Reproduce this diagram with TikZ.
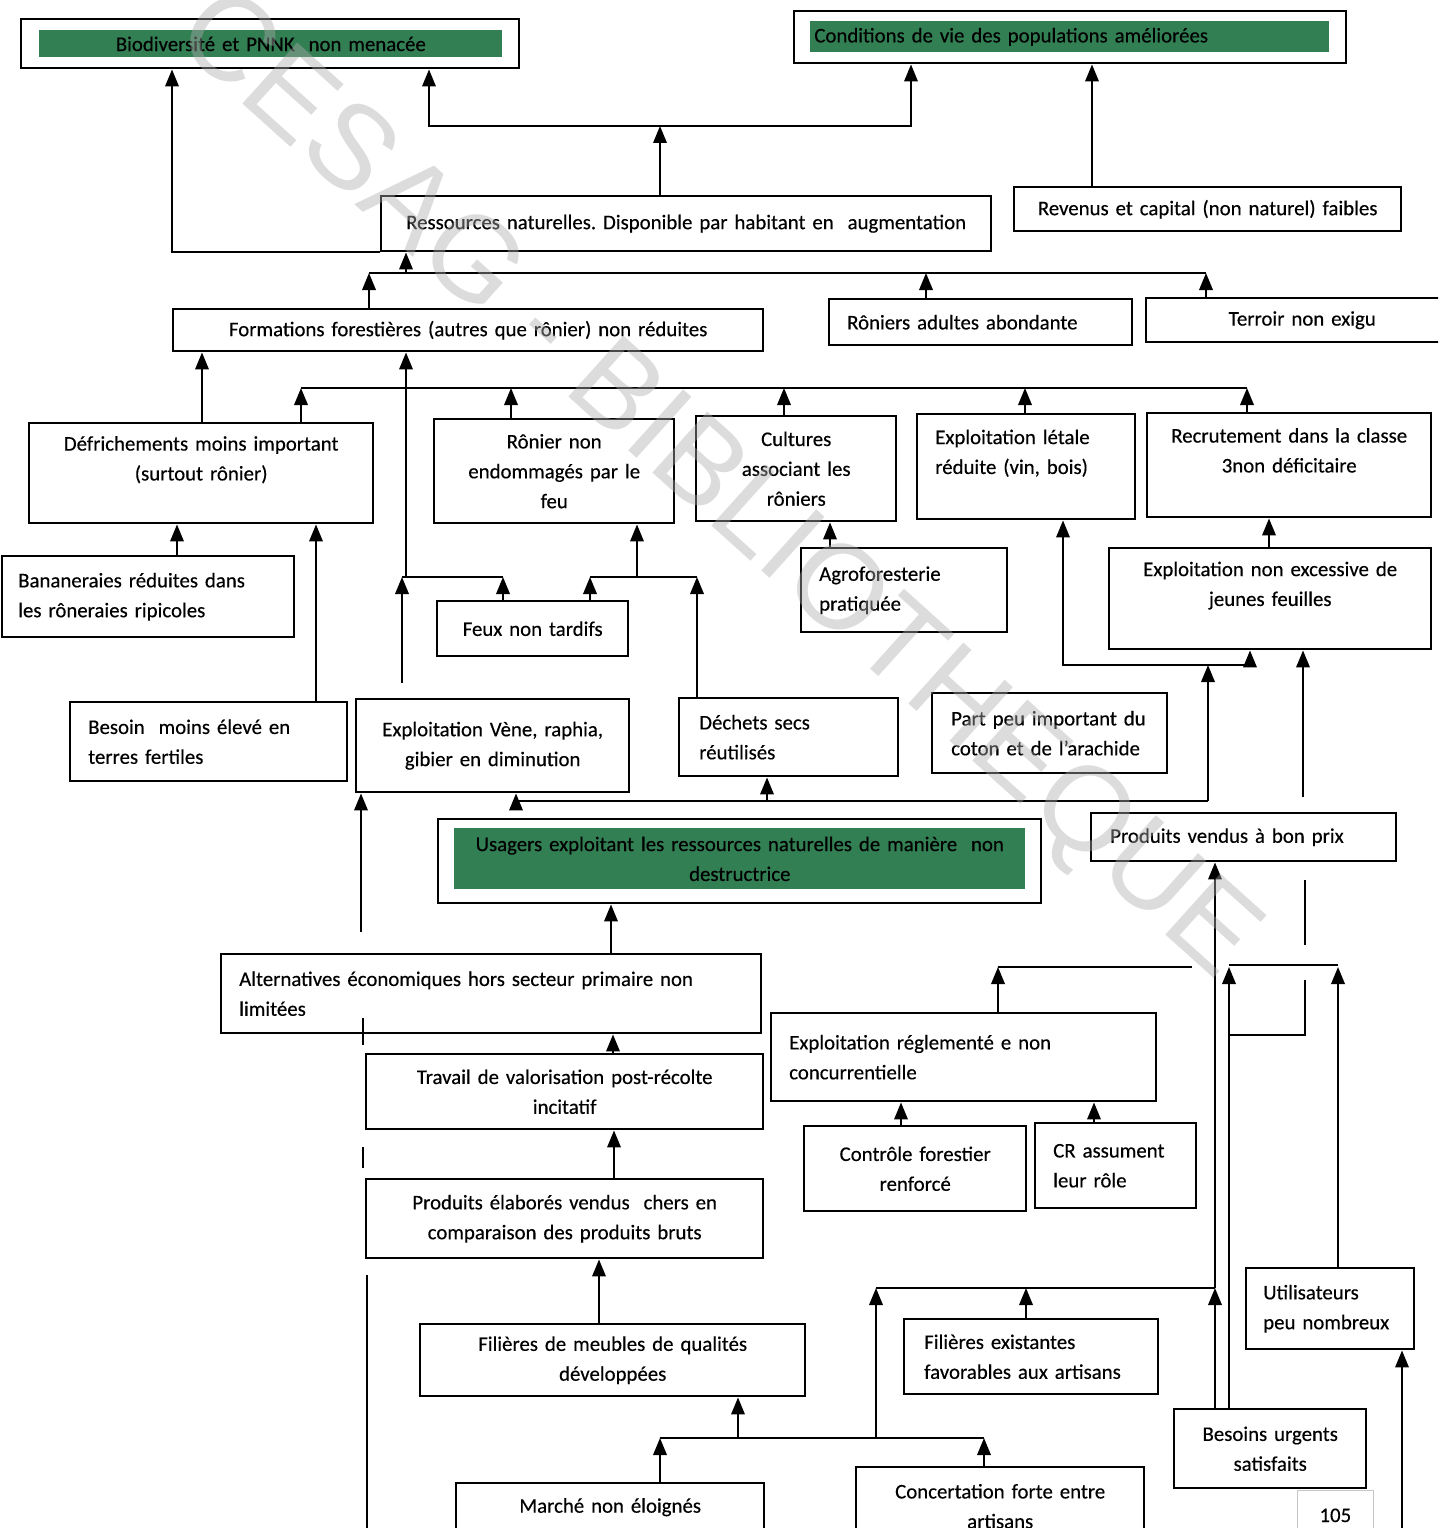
\documentclass[tikz,border=0pt]{standalone}
\usepackage{fontspec}
\setmainfont{Carlito}[FakeBold=0.35]
\newfontfamily\filfont{Liberation Sans}
\usetikzlibrary{arrows.meta}
\definecolor{vert}{RGB}{50,127,84}
\frenchspacing

\begin{document}
\begin{tikzpicture}[x=0.02cm, y=-0.02cm,
    cadre/.style={draw, fill=white, line width=1.4pt, anchor=north west, inner sep=0pt, font=\fontsize{11.85}{17}\selectfont},
    bande/.style={fill=vert, anchor=north west, inner sep=0pt, font=\fontsize{11.85}{17}\selectfont},
    fleche/.style={line width=1.1pt, -{Triangle[length=0.34cm, width=0.27cm]}},
    fleches/.style={line width=1.1pt, {Triangle[length=0.34cm, width=0.27cm]}-{Triangle[length=0.34cm, width=0.27cm]}},
    trait/.style={line width=1.1pt},
    filigrane/.style={font=\filfont\fontsize{68}{68}\selectfont, text=gray!65, opacity=0.42}]
    \useasboundingbox (0,0) rectangle (1438,1528);
    \clip (0,0) rectangle (1438,1528);

    % Objectifs
    \node[cadre, minimum width=9.96cm, minimum height=0.98cm] (bio) at (20,18) {};
    \node[bande, minimum width=9.26cm, minimum height=0.54cm, text width=9cm, align=center] (biot) at (39,30) {Biodiversité et PNNK~ non menacée};
    \node[cadre, minimum width=11.04cm, minimum height=1.04cm] (cond) at (793,10) {};
    \node[bande, minimum width=10.38cm, minimum height=0.62cm, text width=10.22cm, align=left] (condt) at (810,21) {Conditions de vie des populations améliorées};

    % Niveau 1
    \node[cadre, minimum width=12.2cm, minimum height=1.1cm, text width=11.8cm, align=center] (res) at (380,195) {Ressources naturelles. Disponible par habitant en~ augmentation};
    \node[cadre, minimum width=7.74cm, minimum height=0.88cm, text width=7.4cm, align=center] (rev) at (1013,186) {Revenus et capital (non naturel) faibles};

    % Niveau 2
    \node[cadre, minimum width=11.8cm, minimum height=0.84cm, text width=11.4cm, align=center] (form) at (172,308) {Formations forestières (autres que rônier) non réduites};
    \node[cadre, minimum width=6.06cm, minimum height=0.92cm, text width=5.34cm, align=left] (ron) at (828,298) {Rôniers adultes abondante};
    \node[cadre, minimum width=6.24cm, minimum height=0.88cm, text width=5.8cm, align=center] (ter) at (1145,297) {Terroir non exigu};

    % Niveau 3
    \node[cadre, minimum width=6.88cm, minimum height=2cm, text width=6.5cm, align=center] (def) at (28,422) {Défrichements moins important\\(surtout rônier)\\\mbox{}};
    \node[cadre, minimum width=4.8cm, minimum height=2.08cm, text width=4.5cm, align=center] (ronf) at (433,418) {Rônier non\\endommagés par le\\feu};
    \node[cadre, minimum width=4cm, minimum height=2.1cm, text width=3.8cm, align=center] (cult) at (695,415) {Cultures\\associant les\\rôniers};
    \node[cadre, minimum width=4.36cm, minimum height=2.1cm, text width=3.64cm, align=left] (exl) at (916,413) {Exploitation létale\\réduite (vin, bois)\\\mbox{}};
    \node[cadre, minimum width=5.68cm, minimum height=2.08cm, text width=5.4cm, align=center] (recr) at (1146,412) {Recrutement dans la classe\\3non déficitaire\\\mbox{}};

    % Niveau 4
    \node[cadre, minimum width=5.84cm, minimum height=1.62cm, text width=5.2cm, align=left] (ban) at (1,555) {Bananeraies réduites dans\\les rôneraies ripicoles};
    \node[cadre, minimum width=3.82cm, minimum height=1.1cm, text width=3.6cm, align=center] (feux) at (436,600) {Feux non tardifs};
    \node[cadre, minimum width=4.12cm, minimum height=1.68cm, text width=3.4cm, align=left] (agro) at (800,547) {Agroforesterie\\pratiquée};
    \node[cadre, minimum width=6.44cm, minimum height=2.02cm, text width=6.1cm, align=center] (jeun) at (1108,547) {Exploitation non excessive de\\jeunes feuilles\\\mbox{}};

    % Niveau 5
    \node[cadre, minimum width=5.54cm, minimum height=1.58cm, text width=4.82cm, align=left] (besoin) at (69,701) {Besoin~ moins élevé en\\terres fertiles};
    \node[cadre, minimum width=5.46cm, minimum height=1.86cm, text width=5.2cm, align=center] (vene) at (355,698) {Exploitation Vène, raphia,\\gibier en diminution};
    \node[cadre, minimum width=4.38cm, minimum height=1.56cm, text width=3.58cm, align=left] (dech) at (678,697) {Déchets secs\\réutilisés};
    \node[cadre, minimum width=4.7cm, minimum height=1.6cm, text width=3.94cm, align=left] (part) at (931,692) {Part peu important du\\coton et de l’arachide};

    % Probleme central
    \node[cadre, minimum width=12.06cm, minimum height=1.68cm] (usa) at (437,818) {};
    \node[bande, minimum width=11.42cm, minimum height=1.22cm, text width=11cm, align=center] (usat) at (454,828) {Usagers exploitant les ressources naturelles de manière~ non\\destructrice};
    \node[cadre, minimum width=6.1cm, minimum height=0.96cm, text width=5.34cm, align=left] (pvend) at (1090,812) {Produits vendus à bon prix};

    % Moyens
    \node[cadre, minimum width=10.8cm, minimum height=1.58cm, text width=10.08cm, align=left] (alt) at (220,953) {Alternatives économiques hors secteur primaire non\\limitées};
    \node[cadre, minimum width=7.94cm, minimum height=1.5cm, text width=7.6cm, align=center] (trav) at (365,1053) {Travail de valorisation post-récolte\\incitatif};
    \node[cadre, minimum width=7.7cm, minimum height=1.76cm, text width=6.98cm, align=left] (expreg) at (770,1012) {Exploitation réglementé e non\\concurrentielle};
    \node[cadre, minimum width=4.44cm, minimum height=1.7cm, text width=4.2cm, align=center] (ctrl) at (803,1125) {Contrôle forestier\\renforcé};
    \node[cadre, minimum width=3.22cm, minimum height=1.7cm, text width=2.5cm, align=left] (cr) at (1034,1122) {CR assument\\leur rôle};
    \node[cadre, minimum width=7.94cm, minimum height=1.58cm, text width=7.6cm, align=center] (prodel) at (365,1178) {Produits élaborés vendus~ chers en\\comparaison des produits bruts};
    \node[cadre, minimum width=3.36cm, minimum height=1.62cm, text width=2.68cm, align=left] (util) at (1245,1267) {Utilisateurs\\peu nombreux};
    \node[cadre, minimum width=7.7cm, minimum height=1.44cm, text width=7.4cm, align=center] (filmeub) at (419,1323) {Filières de meubles de qualités\\développées};
    \node[cadre, minimum width=5.08cm, minimum height=1.5cm, text width=4.28cm, align=left] (filex) at (903,1318) {Filières existantes\\favorables aux artisans};
    \node[cadre, minimum width=3.84cm, minimum height=1.58cm, text width=3.6cm, align=center] (besu) at (1173,1408) {Besoins urgents\\satisfaits};
    \node[cadre, minimum width=6.16cm, minimum height=0.96cm, text width=5.9cm, align=center] (marche) at (455,1482) {Marché non éloignés};
    \node[cadre, minimum width=5.76cm, minimum height=1.56cm, text width=5.5cm, align=center] (conc) at (855,1466) {Concertation forte entre\\artisans};
    \node[draw=gray!45, line width=0.4pt, anchor=north west, minimum width=1.52cm, minimum height=1cm, font=\fontsize{11.85}{17}\selectfont] (page) at (1297,1490) {105};

    % Liens vers les objectifs
    \coordinate (j1) at (660,126);
    \draw[fleche] (res.south west) -| (172,0 |- bio.south);
    \draw[fleche] (660,0 |- res.north) -- (j1);
    \draw[fleche] (j1) -| (429,0 |- bio.south);
    \draw[fleche] (j1) -| (911,0 |- cond.south);
    \draw[fleche] (1092,0 |- rev.north) -- (1092,0 |- cond.south);

    % Niveau 2 -> ressources
    \draw[trait] (369,273) -- (1206,273);
    \draw[fleche] (406,273) -- (406,0 |- res.south);
    \draw[fleche] (369,0 |- form.north) -- (369,273);
    \draw[fleche] (926,0 |- ron.north) -- (926,273);
    \draw[fleche] (1206,0 |- ter.north) -- (1206,273);

    % Niveau 3 -> formations
    \draw[trait] (301,388) -- (1247,388);
    \foreach \x/\n in {301/def, 511/ronf, 784/cult, 1025/exl, 1247/recr}
        \draw[fleche] (\x,0 |- \n.north) -- (\x,388);
    \draw[fleche] (202,0 |- def.north) -- (202,0 |- form.south);
    \draw[fleche] (406,577) -- (406,0 |- form.south);

    % Feux, Vene, Dechets
    \draw[trait] (402,577) -- (503,577);
    \draw[fleche, shorten <=0.3cm] (402,0 |- vene.north) -- (402,577);
    \draw[fleche] (503,0 |- feux.north) -- (503,577);
    \draw[trait] (590,577) -- (697,577);
    \draw[fleche] (590,0 |- feux.north) -- (590,577);
    \draw[fleche] (697,0 |- dech.north) -- (697,577);
    \draw[fleche] (637,577) -- (637,0 |- ronf.south);

    % Vers niveau 3
    \draw[fleche] (177,0 |- ban.north) -- (177,0 |- def.south);
    \draw[fleche] (316,0 |- besoin.north) -- (316,0 |- def.south);
    \draw[fleche] (830,0 |- agro.north) -- (830,0 |- cult.south);
    \draw[fleche] (1269,0 |- jeun.north) -- (1269,0 |- recr.south);
    \draw[fleches] (1063,0 |- exl.south) -- (1063,665) -- (1250,665) -- (1250,0 |- jeun.south);

    % Ligne basse
    \coordinate (j3) at (1208,665);
    \coordinate (j4) at (1208,801);
    \draw[trait] (516,801) -- (j4);
    \draw[fleche] (516,801) -- (516,0 |- vene.south);
    \draw[fleche] (767,801) -- (767,0 |- dech.south);
    \draw[fleche] (j4) -- (j3);
    \draw[fleche] (1303,797) -- (1303,0 |- jeun.south);
    \draw[trait] (1305,880) -- (1305,945);
    \draw[trait] (1305,980) -- (1305,1035) -- (1229,1035);

    % Chaine centrale
    \draw[fleche] (611,0 |- alt.north) -- (611,0 |- usa.south);
    \draw[fleche] (613,0 |- trav.north) -- (613,0 |- alt.south);
    \draw[fleche] (614,0 |- prodel.north) -- (614,0 |- trav.south);
    \draw[fleche] (599,0 |- filmeub.north) -- (599,0 |- prodel.south);
    \draw[fleche] (361,932) -- (361,0 |- vene.south);
    \draw[trait] (363,1018) -- (363,1045);
    \draw[trait] (363,1147) -- (363,1168);
    \draw[trait] (367,1275) -- (367,1528);

    % Exploitation reglementee
    \draw[fleche] (998,0 |- expreg.north) -- (998,967);
    \draw[trait] (998,967) -- (1192,967);
    \draw[fleche] (901,0 |- ctrl.north) -- (901,0 |- expreg.south);
    \draw[fleche] (1094,0 |- cr.north) -- (1094,0 |- expreg.south);

    % Besoins, utilisateurs
    \draw[fleche] (1215,0 |- besu.north) -- (1215,1288);
    \draw[fleche] (1215,1288) -- (1215,0 |- pvend.south);
    \draw[fleche] (1229,0 |- besu.north) -- (1229,967);
    \draw[trait] (1229,965) -- (1338,965);
    \draw[fleche] (1338,0 |- util.north) -- (1338,967);
    \draw[fleche] (1402,1528) -- (1402,0 |- util.south);

    % Artisans
    \draw[trait] (876,1288) -- (1215,1288);
    \draw[fleche] (1026,0 |- filex.north) -- (1026,1288);
    \draw[fleche] (876,1438) -- (876,1288);
    \draw[trait] (660,1438) -- (984,1438);
    \draw[fleche] (660,0 |- marche.north) -- (660,1438);
    \draw[fleche] (984,0 |- conc.north) -- (984,1438);
    \draw[fleche] (738,1438) -- (738,0 |- filmeub.south);

    % Filigrane
    \node[filigrane, rotate=-42] (fili) at (715,488) {CESAG - BIBLIOTHEQUE};
\end{tikzpicture}
\end{document}
